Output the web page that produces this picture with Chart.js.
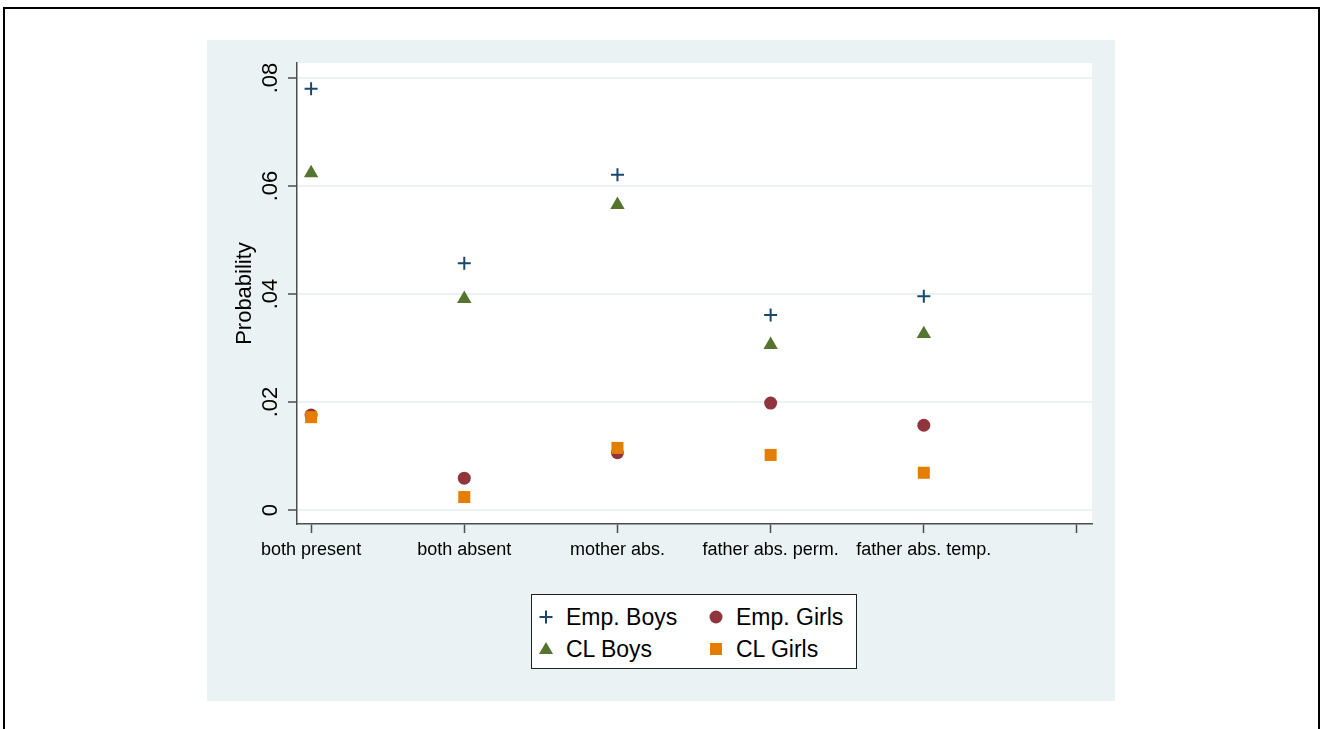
<!DOCTYPE html>
<html>
<head>
<meta charset="utf-8">
<script src="https://cdn.jsdelivr.net/npm/chart.js@4/dist/chart.umd.min.js"></script>
<style>
  html, body { margin: 0; padding: 0; background: #fff; overflow: hidden; width: 1321px; height: 729px; }
  #frame { position: absolute; left: 3px; top: 7px; width: 1313px; height: 760px; border: 2px solid #000; box-sizing: content-box; }
  #region { position: absolute; left: 207px; top: 40px; width: 908px; height: 661px; background: #eaf2f3; }
  #wrap { position: absolute; left: 207px; top: 40px; width: 908px; height: 534px; }
  #legend { position: absolute; left: 531px; top: 594px; width: 324px; height: 73px; border: 1px solid #222; background: #fff;
            font-family: "Liberation Sans", Arial, sans-serif; font-size: 23px; color: #000; }
  .item { position: absolute; height: 30px; line-height: 30px; white-space: nowrap; }
  .mk { position: absolute; top: 50%; }
  .txt { position: absolute; left: 30px; top: 0; }
</style>
</head>
<body>
<div id="frame"></div>
<div id="region"></div>
<div id="wrap"><canvas id="c" width="908" height="534"></canvas></div>
<div id="legend"></div>
<script>
// ---- data ----
const categories = ['both present', 'both absent', 'mother abs.', 'father abs. perm.', 'father abs. temp.'];
const xTickValues = [1, 2, 3, 4, 5, 6];
const empBoys  = [0.0780, 0.0457, 0.0621, 0.0361, 0.0396];
const empGirls = [0.0176, 0.0059, 0.0106, 0.0198, 0.0157];
const clBoys   = [0.0624, 0.0391, 0.0565, 0.0306, 0.0326];
const clGirls  = [0.0172, 0.0024, 0.0115, 0.0102, 0.0069];
const yTickValues = [0, 0.02, 0.04, 0.06, 0.08];
const yTickLabels = ['0', '.02', '.04', '.06', '.08'];
const seriesLabels = ['Emp. Boys', 'Emp. Girls', 'CL Boys', 'CL Girls'];

const toPts = arr => arr.map((v, i) => ({ x: i + 1, y: v }));
const FONT = '"Liberation Sans", Arial, sans-serif';
const AXIS = '#4d4d4d';

const whiteArea = {
  id: 'whiteArea',
  beforeDraw(chart) {
    const { ctx, chartArea: a } = chart;
    ctx.save();
    ctx.fillStyle = '#ffffff';
    ctx.fillRect(a.left, a.top, a.right - a.left, a.bottom - a.top);
    ctx.restore();
  }
};

const datasets = [
  { label: seriesLabels[0], data: toPts(empBoys), pointStyle: 'cross', pointRadius: 6.5, pointBorderWidth: 2,
    borderColor: '#1a476f', backgroundColor: '#1a476f', order: 3, mk: 'plus' },
  { label: seriesLabels[1], data: toPts(empGirls), pointStyle: 'circle', pointRadius: 6.5, pointBorderWidth: 0,
    borderColor: '#90353b', backgroundColor: '#90353b', order: 1, mk: 'circle' },
  { label: seriesLabels[2], data: toPts(clBoys), pointStyle: 'triangle', pointRadius: 8.3, pointBorderWidth: 0,
    borderColor: '#55752f', backgroundColor: '#55752f', order: 2, mk: 'triangle' },
  { label: seriesLabels[3], data: toPts(clGirls), pointStyle: 'rect', pointRadius: 8.5, pointBorderWidth: 0,
    borderColor: '#e37e00', backgroundColor: '#e37e00', order: 0, mk: 'square' }
];

const chart = new Chart(document.getElementById('c'), {
  type: 'scatter',
  data: { datasets },
  options: {
    responsive: false,
    animation: false,
    devicePixelRatio: 1,
    layout: { padding: { top: 23, right: 23, left: 0, bottom: 0 } },
    plugins: { legend: { display: false }, tooltip: { enabled: false } },
    elements: { point: { hoverRadius: 6 } },
    scales: {
      x: {
        type: 'linear',
        min: 0.908, max: 6.098,
        afterBuildTicks: s => { s.ticks = xTickValues.map(v => ({ value: v })); },
        afterFit: s => { s.height = 50; },
        ticks: {
          autoSkip: false, maxRotation: 0, minRotation: 0, padding: 6,
          color: '#000', font: { family: FONT, size: 18 },
          callback: v => categories[v - 1] !== undefined ? categories[v - 1] : ''
        },
        grid: { drawOnChartArea: false, drawTicks: true, tickLength: 9, tickColor: AXIS, tickWidth: 1.5 },
        border: { display: true, color: AXIS, width: 1.5 }
      },
      y: {
        min: -0.00259, max: 0.08278,
        afterBuildTicks: s => { s.ticks = yTickValues.map(v => ({ value: v })); },
        afterFit: s => { s.width = 90; },
        ticks: {
          minRotation: 90, maxRotation: 90, crossAlign: 'center', padding: 1.5,
          color: '#000', font: { family: FONT, size: 22 },
          callback: v => { const i = yTickValues.indexOf(v); return i >= 0 ? yTickLabels[i] : ''; }
        },
        title: { display: true, text: 'Probability', color: '#000', font: { family: FONT, size: 22 }, padding: { top: 25, bottom: 0 } },
        grid: { color: '#eaf2f3', lineWidth: 2, drawTicks: true, tickLength: 9, tickColor: AXIS, tickWidth: 1.5 },
        border: { display: true, color: AXIS, width: 1.5 }
      }
    }
  },
  plugins: [whiteArea]
});

// ---- legend built from the chart's datasets ----
const legendEl = document.getElementById('legend');
const slots = [[0, 0], [0, 1], [1, 0], [1, 1]]; // [row, col] for Emp Boys, Emp Girls, CL Boys, CL Girls
chart.data.datasets.forEach((ds, i) => {
  const [row, col] = slots[i];
  const it = document.createElement('div');
  it.className = 'item';
  it.style.left = (col === 0 ? 4 : 174) + 'px';
  it.style.top = (row === 0 ? 7 : 39) + 'px';
  const mk = document.createElement('canvas');
  mk.width = 20; mk.height = 20; mk.className = 'mk';
  mk.style.left = '0px'; mk.style.marginTop = '-10px';
  const g = mk.getContext('2d');
  g.fillStyle = ds.backgroundColor; g.strokeStyle = ds.borderColor;
  if (ds.mk === 'plus') { g.lineWidth = 2; g.beginPath(); g.moveTo(3.5, 10); g.lineTo(16.5, 10); g.moveTo(10, 3.5); g.lineTo(10, 16.5); g.stroke(); }
  else if (ds.mk === 'circle') { g.beginPath(); g.arc(10, 10, 6.5, 0, Math.PI * 2); g.fill(); }
  else if (ds.mk === 'triangle') { g.beginPath(); g.moveTo(10, 3); g.lineTo(17, 15); g.lineTo(3, 15); g.closePath(); g.fill(); }
  else { g.fillRect(4, 4, 12, 12); }
  const tx = document.createElement('span');
  tx.className = 'txt'; tx.textContent = ds.label;
  it.appendChild(mk); it.appendChild(tx);
  legendEl.appendChild(it);
});
</script>
</body>
</html>
